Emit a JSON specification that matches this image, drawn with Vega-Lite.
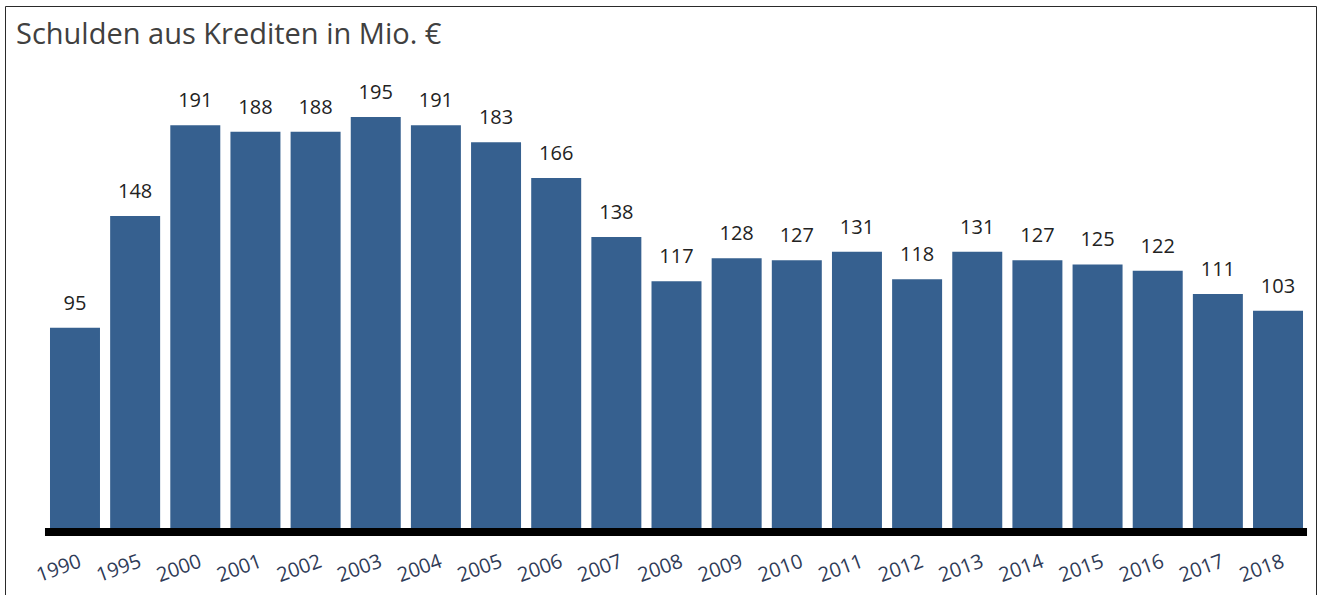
{
  "$schema": "https://vega.github.io/schema/vega-lite/v6.json",
  "width": 1311,
  "height": 592,
  "autosize": {"type": "none"},
  "padding": {"left": 5, "top": 6, "right": 4, "bottom": 0},
  "background": "white",
  "title": {
    "text": "Schulden aus Krediten in Mio. €",
    "anchor": "start",
    "frame": "group",
    "offset": -44,
    "dx": 11,
    "fontSize": 29,
    "font": "Open Sans",
    "fontWeight": "normal",
    "color": "#404040"
  },
  "config": {"view": {"stroke": "#2a2a2a", "strokeWidth": 1}, "font": "Open Sans"},
  "data": {
    "values": [
      {"year": "1990", "value": 95},
      {"year": "1995", "value": 148},
      {"year": "2000", "value": 191},
      {"year": "2001", "value": 188},
      {"year": "2002", "value": 188},
      {"year": "2003", "value": 195},
      {"year": "2004", "value": 191},
      {"year": "2005", "value": 183},
      {"year": "2006", "value": 166},
      {"year": "2007", "value": 138},
      {"year": "2008", "value": 117},
      {"year": "2009", "value": 128},
      {"year": "2010", "value": 127},
      {"year": "2011", "value": 131},
      {"year": "2012", "value": 118},
      {"year": "2013", "value": 131},
      {"year": "2014", "value": 127},
      {"year": "2015", "value": 125},
      {"year": "2016", "value": 122},
      {"year": "2017", "value": 111},
      {"year": "2018", "value": 103}
    ]
  },
  "encoding": {
    "x": {
      "field": "year",
      "type": "ordinal",
      "sort": null,
      "scale": {"paddingInner": 0.169, "paddingOuter": 0.482, "align": 0.776},
      "axis": {
        "title": null,
        "domain": false,
        "ticks": false,
        "tickSize": 0,
        "grid": false,
        "labelAngle": -20,
        "labelAlign": "right",
        "labelBaseline": "top",
        "labelPadding": 19,
        "labelFontSize": 20,
        "labelColor": "#2f3b57",
        "labelFont": "Open Sans",
        "labelOffset": 2,
        "offset": -66
      }
    }
  },
  "layer": [
    {
      "mark": {"type": "bar", "color": "#36608f"},
      "encoding": {
        "y": {
          "field": "value",
          "type": "quantitative",
          "scale": {"domain": [-33.2, 247.6], "nice": false, "zero": false},
          "axis": null
        },
        "y2": {"datum": 0}
      }
    },
    {
      "mark": {"type": "text", "baseline": "alphabetic", "dy": -18, "fontSize": 20, "color": "#222222", "font": "Open Sans"},
      "encoding": {
        "y": {"field": "value", "type": "quantitative"},
        "text": {"field": "value", "type": "quantitative"}
      }
    },
    {
      "data": {"values": [{}]},
      "mark": {"type": "rule", "strokeWidth": 8, "color": "black", "yOffset": 4, "xOffset": -30, "x2Offset": 29},
      "encoding": {
        "x": {"datum": "1990"},
        "x2": {"datum": "2018"},
        "y": {"datum": 0}
      }
    }
  ]
}
